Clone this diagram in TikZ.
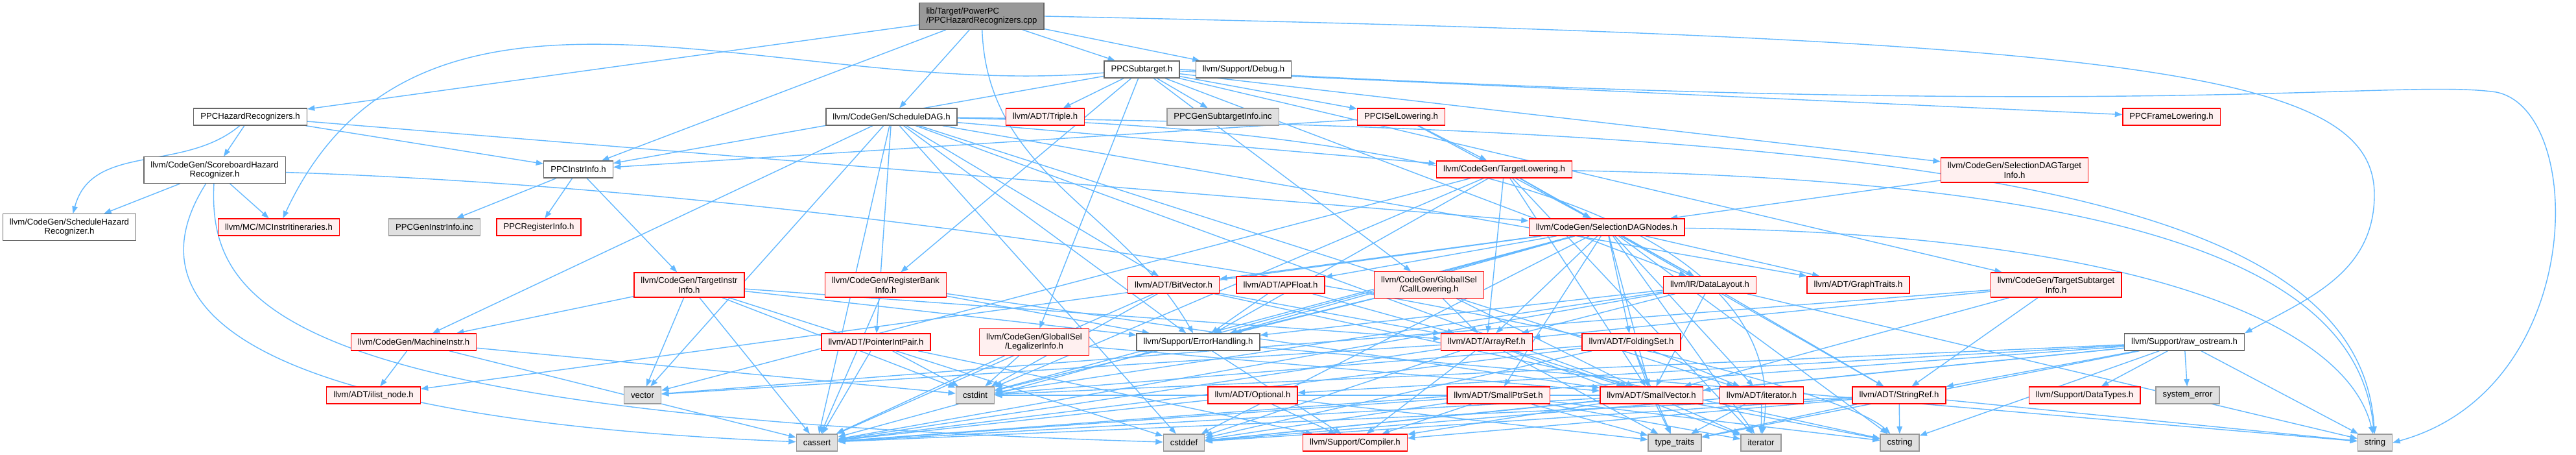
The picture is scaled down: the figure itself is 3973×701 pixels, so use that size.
\documentclass[tikz,border=0pt]{standalone}
\usepackage{fontspec}
\setmainfont{Liberation Sans}
\usetikzlibrary{arrows.meta,backgrounds}
\definecolor{edgeblue}{HTML}{63B8FF}
\definecolor{truncfill}{HTML}{FFF0F0}
\definecolor{sysfill}{HTML}{E0E0E0}

\begin{document}
\begin{tikzpicture}[x=0.025cm,y=-0.025cm,
  >={Triangle[length=8pt,width=6pt]},
  file/.style={draw=black!60,fill=white,line width=1pt,inner xsep=7.5pt,inner ysep=4.8pt,
    minimum height=0.65cm,font=\fontsize{9.35}{10.5}\selectfont,align=center},
  trunc/.style={file,draw=red,fill=truncfill},
  sys/.style={file,draw=black!40,fill=sysfill},
  dep/.style={->,draw=edgeblue,line width=1pt}]
\useasboundingbox (0,0) rectangle (3973,701);

% top rows
\node[file,fill=black!40,draw=black!60,align=left] (root) at (1514,25) {lib/Target/PowerPC\\/PPCHazardRecognizers.cpp};
\node[file] (subt) at (1761,107) {PPCSubtarget.h};
\node[file] (debug) at (1918,107) {llvm/Support/Debug.h};
\node[file] (hazh) at (386,180) {PPCHazardRecognizers.h};
\node[file] (sdag) at (1375,180) {llvm/CodeGen/ScheduleDAG.h};
\node[trunc] (triple) at (1612,180) {llvm/ADT/Triple.h};
\node[sys] (gensub) at (1886,180) {PPCGenSubtargetInfo.inc};
\node[trunc] (isel) at (2161,180) {PPCISelLowering.h};
\node[trunc] (frame) at (3349,180) {PPCFrameLowering.h};
\node[file] (score) at (331,262) {llvm/CodeGen/ScoreboardHazard\\Recognizer.h};
\node[file] (instr) at (892,261) {PPCInstrInfo.h};
\node[trunc] (tlow) at (2320,261) {llvm/CodeGen/TargetLowering.h};
\node[trunc] (sdti) at (3107,262) {llvm/CodeGen/SelectionDAGTarget\\Info.h};
\node[file] (shaz) at (107,350) {llvm/CodeGen/ScheduleHazard\\Recognizer.h};
\node[trunc] (mcitin) at (430,350) {llvm/MC/MCInstrItineraries.h};
\node[sys] (geninstr) at (670,350) {PPCGenInstrInfo.inc};
\node[trunc] (reginfo) at (831,350) {PPCRegisterInfo.h};
\node[trunc] (sdnodes) at (2478,350) {llvm/CodeGen/SelectionDAGNodes.h};

% middle rows
\node[trunc] (tii) at (1063,439) {llvm/CodeGen/TargetInstr\\Info.h};
\node[trunc] (rbi) at (1366,439) {llvm/CodeGen/RegisterBank\\Info.h};
\node[trunc] (bitvec) at (1810,439) {llvm/ADT/BitVector.h};
\node[trunc] (apfloat) at (1975,439) {llvm/ADT/APFloat.h};
\node[trunc] (callow) at (2204,439) {llvm/CodeGen/GlobalISel\\/CallLowering.h};
\node[trunc] (dlayout) at (2637,439) {llvm/IR/DataLayout.h};
\node[trunc] (graph) at (2866,439) {llvm/ADT/GraphTraits.h};
\node[trunc] (tsti) at (3171,439) {llvm/CodeGen/TargetSubtarget\\Info.h};
\node[trunc] (minstr) at (638,527) {llvm/CodeGen/MachineInstr.h};
\node[trunc] (pip) at (1351,527) {llvm/ADT/PointerIntPair.h};
\node[trunc] (legal) at (1595,527) {llvm/CodeGen/GlobalISel\\/LegalizerInfo.h};
\node[file] (errh) at (1848,527) {llvm/Support/ErrorHandling.h};
\node[trunc] (aref) at (2293,527) {llvm/ADT/ArrayRef.h};
\node[trunc] (fold) at (2516,527) {llvm/ADT/FoldingSet.h};
\node[file] (rawos) at (3369,527) {llvm/Support/raw\_ostream.h};

% lower rows
\node[trunc] (ilist) at (576,609) {llvm/ADT/ilist\_node.h};
\node[sys] (vector) at (991,609) {vector};
\node[sys] (cstdint) at (1504,609) {cstdint};
\node[trunc] (optional) at (1932,609) {llvm/ADT/Optional.h};
\node[trunc] (sptr) at (2311,609) {llvm/ADT/SmallPtrSet.h};
\node[trunc] (svec) at (2547,609) {llvm/ADT/SmallVector.h};
\node[trunc] (iterh) at (2717,609) {llvm/ADT/iterator.h};
\node[trunc] (sref) at (2929,609) {llvm/ADT/StringRef.h};
\node[trunc] (dtypes) at (3215,609) {llvm/Support/DataTypes.h};
\node[sys] (syserr) at (3374,609) {system\_error};
\node[sys] (cassert) at (1260,682) {cassert};
\node[sys] (cstddef) at (1826,682) {cstddef};
\node[trunc] (compiler) at (2090,682) {llvm/Support/Compiler.h};
\node[sys] (ttraits) at (2583,682) {type\_traits};
\node[sys] (iter) at (2716,682) {iterator};
\node[sys] (cstring) at (2930,682) {cstring};
\node[sys] (string) at (3663,682) {string};

\begin{pgfonlayer}{background}
\foreach \t in {hazh,instr,subt,sdag,debug} \draw[dep] (root) -- (\t);
\draw[dep] (root) to[out=-88,in=120] (errh);
\draw[dep] (root.east) .. controls (3300,60) and (3662,110) .. (3662,300) .. controls (3662,420) and (3560,460) .. (rawos.north east);
\foreach \t in {instr,score,sdnodes} \draw[dep] (hazh) -- (\t);
\draw[dep] (hazh) to[out=-140,in=75] (shaz);
\foreach \t in {shaz,mcitin} \draw[dep] (score) -- (\t);
\draw[dep] (score) .. controls (230,420) and (240,640) .. (cassert);
\draw[dep] (score) .. controls (320,480) and (450,640) .. (cstddef);
\draw[dep] (score) .. controls (1500,300) and (2800,560) .. (cstring);
\foreach \t in {geninstr,reginfo,tii} \draw[dep] (instr) -- (\t);
\foreach \t in {frame,isel,instr,triple,callow,legal,rbi,sdti,tsti,dlayout,gensub} \draw[dep] (subt) -- (\t);
\draw[dep] (subt) to[out=185,in=65] (mcitin);
\draw[dep] (subt.east) .. controls (3300,190) and (3700,120) .. (3850,142) .. controls (3990,170) and (3990,600) .. (string.east);
\foreach \t in {bitvec,graph,pip,svec,iterh,minstr,tlow,errh,cassert,cstddef,vector} \draw[dep] (sdag) -- (\t);
\draw[dep] (sdag) .. controls (2400,200) and (2760,400) .. (iter);
\draw[dep] (sdag) .. controls (3000,200) and (3640,300) .. (string);
\foreach \t in {instr,tlow,sdnodes} \draw[dep] (isel) -- (\t);
\foreach \t in {sdnodes,aref,svec,sref,dlayout,errh,cstdint,iter,vector} \draw[dep] (tlow) -- (\t);
\draw[dep] (tlow) .. controls (3400,280) and (3640,450) .. (string);
\foreach \t in {apfloat,aref,bitvec,fold,graph,sptr,svec,ilist,iterh,dlayout,errh,cassert,cstddef,cstdint,cstring,iter} \draw[dep] (sdnodes) -- (\t);
\draw[dep] (sdnodes) .. controls (3300,360) and (3620,500) .. (string);
\draw[dep] (sdti) -- (sdnodes);
\foreach \t in {ilist,cassert,cstdint} \draw[dep] (minstr) -- (\t);
\foreach \t in {aref,minstr,errh,cassert,cstddef,cstdint,vector} \draw[dep] (tii) -- (\t);
\foreach \t in {svec,errh,cassert} \draw[dep] (rbi) -- (\t);
\foreach \t in {compiler,cassert,cstdint} \draw[dep] (pip) -- (\t);
\foreach \t in {svec,cassert,cstdint} \draw[dep] (legal) -- (\t);
\foreach \t in {compiler,string} \draw[dep] (errh) -- (\t);
\foreach \t in {aref,cassert,cstdint,cstring} \draw[dep] (bitvec) -- (\t);
\foreach \t in {aref,errh} \draw[dep] (apfloat) -- (\t);
\foreach \t in {compiler,ttraits,cassert} \draw[dep] (optional) -- (\t);
\foreach \t in {aref,svec,errh,cstdint} \draw[dep] (callow) -- (\t);
\foreach \t in {aref,svec,sref,errh,cassert,cstdint,string} \draw[dep] (dlayout) -- (\t);
\foreach \t in {svec,compiler,cassert,cstddef,iter,ttraits,vector} \draw[dep] (aref) -- (\t);
\foreach \t in {svec,iterh,cassert,cstddef,cstdint,ttraits} \draw[dep] (fold) -- (\t);
\foreach \t in {compiler,ttraits,cassert,cstddef,cstring,iter} \draw[dep] (sptr) -- (\t);
\foreach \t in {compiler,cassert,cstddef,cstdint,cstring,iter,ttraits} \draw[dep] (svec) -- (\t);
\foreach \t in {cstddef,iter,ttraits} \draw[dep] (iterh) -- (\t);
\foreach \t in {compiler,cassert,cstddef,cstring,string,ttraits} \draw[dep] (sref) -- (\t);
\foreach \t in {aref,svec,sref,vector} \draw[dep] (tsti) -- (\t);
\foreach \t in {svec,sref,dtypes,optional,cassert,cstddef,cstdint,cstring,string,syserr,ttraits} \draw[dep] (rawos) -- (\t);
\end{pgfonlayer}
\end{tikzpicture}
\end{document}
